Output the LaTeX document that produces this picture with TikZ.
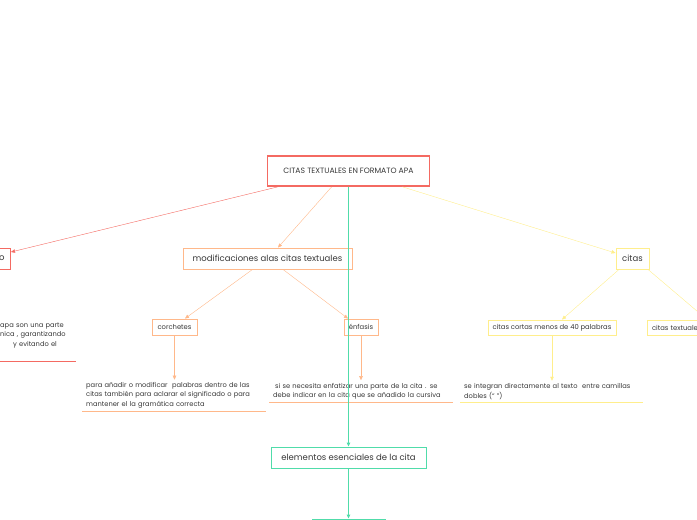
\documentclass[tikz,border=0pt]{standalone}
\usepackage{fontspec}
\setmainfont{Poppins}
\usetikzlibrary{arrows.meta}

\definecolor{rojo}{RGB}{244,106,98}
\definecolor{naranja}{RGB}{255,184,138}
\definecolor{verde}{RGB}{80,220,170}
\definecolor{amarillo}{RGB}{255,238,140}
\definecolor{tinta}{RGB}{55,55,55}

\begin{document}
\begin{tikzpicture}[x=1pt,y=-1pt,>={Triangle[length=4pt,width=3.5pt]},
	caja/.style={draw,rectangle,line width=0.9pt,inner sep=0pt,text=tinta},
	grande/.style={font=\fontsize{8.5}{10}\selectfont},
	chica/.style={font=\fontsize{6.8}{8}\selectfont},
	nota/.style={anchor=south west,align=left,inner xsep=4pt,inner ysep=2.5pt,text=tinta,font=\fontsize{6.7}{9.5}\selectfont}]
		\useasboundingbox (0,0) rectangle (697,520);
		% mapa: citas textuales
		\node[caja,draw=rojo,line width=1.8pt,minimum width=162pt,minimum height=30pt,font=\fontsize{7.7}{8}\selectfont] (Raiz) at (348.5,171) {CITAS TEXTUALES EN FORMATO APA};

		\node[caja,grande,draw=rojo,anchor=east,text width=52pt,align=right,inner xsep=6pt,minimum height=21pt] (Izq) at (11,258.5) {o};
		\node[caja,grande,draw=naranja,minimum width=169pt,minimum height=21pt] (Mod) at (267.5,258.5) {modificaciones alas citas textuales};
		\node[caja,grande,draw=amarillo,minimum width=33pt,minimum height=21pt] (Citas) at (632.5,258.5) {citas};

		\node[caja,chica,draw=naranja,minimum width=45pt,minimum height=16pt] (Corchetes) at (174.5,327) {corchetes};
		\node[caja,chica,draw=naranja,minimum width=34pt,minimum height=16pt] (Enfasis) at (361,327) {énfasis};
		\node[caja,chica,draw=amarillo,minimum width=128pt,minimum height=15pt] (Cortas) at (552,327.5) {citas cortas menos de 40 palabras};
		\node[caja,chica,draw=amarillo,text width=110pt,align=left,inner xsep=5pt,minimum height=15pt] (Largas) at (707,327.5) {citas textuales};

		\node[caja,grande,draw=verde,minimum width=155pt,minimum height=21pt] (Elementos) at (348.5,457.5) {elementos esenciales de la cita};
		\node[caja,draw=verde,minimum width=73pt,minimum height=22pt] (Sig) at (348.5,530) {};

		% textos
		\node[nota,text width=72pt,inner ysep=13pt] (IzqTxt) at (-4,361) {apa son una parte\\nica , garantizando\\\hspace*{13pt}y evitando el};
		\node[nota,text width=176pt] (CorchetesTxt) at (82,411) {para añadir o modificar\ \ palabras dentro de las\\citas\ también\ para aclarar\ el significado\ o para\\mantener el\ la gramática\ correcta};
		\node[nota,text width=176pt] (EnfasisTxt) at (269,402) {\hspace*{2pt}si se necesita\ enfatizar\ una parte de la cita . se\\debe indicar\ en la cita\ que se añadido\ la cursiva};
		\node[nota,text width=175pt] (CortasTxt) at (460,402) {se integran directamente al texto\ \ entre camillas\\dobles (“ ”)};

		\draw[draw=rojo] (IzqTxt.south west) -- (IzqTxt.south east);
		\draw[draw=naranja] (CorchetesTxt.south west) -- (CorchetesTxt.south east);
		\draw[draw=naranja] (EnfasisTxt.south west) -- (EnfasisTxt.south east);
		\draw[draw=amarillo] (CortasTxt.south west) -- (CortasTxt.south east);

		\draw[->,draw=rojo] ([xshift=11pt]Raiz.south west) to ([yshift=6.5pt]Izq.east);
		\draw[->,draw=naranja] ([xshift=65pt]Raiz.south west) to ([xshift=10.5pt]Mod.north);
		\draw[->,draw=amarillo] ([xshift=136pt]Raiz.south west) to ([yshift=5.5pt]Citas.west);

		\draw[->,draw=naranja] ([xshift=-15pt]Mod.south) to ([xshift=10.5pt]Corchetes.north);
		\draw[->,draw=naranja] ([xshift=15.5pt]Mod.south) to ([xshift=-13pt]Enfasis.north);
		\draw[->,draw=amarillo] ([xshift=-13.5pt]Citas.south) to ([xshift=10pt]Cortas.north);
		\draw[->,draw=amarillo] ([xshift=15.5pt]Citas.south) to (Largas.north);

		\draw[->,draw=naranja] (Corchetes) to (Corchetes |- CorchetesTxt.north);
		\draw[->,draw=naranja] (Enfasis) to (Enfasis |- EnfasisTxt.north);
		\draw[->,draw=amarillo] (Cortas) to (Cortas |- CortasTxt.north);

		\draw[->,draw=verde,line width=1pt] (Raiz) to (Elementos);
		\draw[->,draw=verde,line width=1pt] (Elementos) to (Sig);
		\end{tikzpicture}
\end{document}
